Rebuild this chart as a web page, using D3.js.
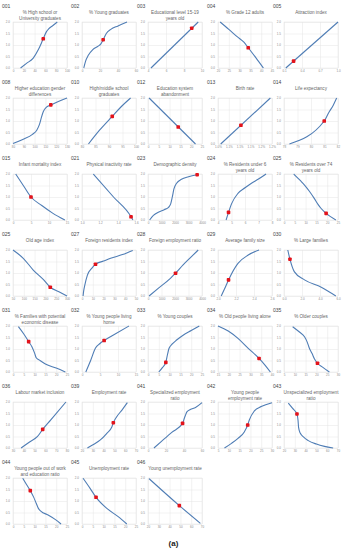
<!DOCTYPE html>
<html>
<head>
<meta charset="utf-8">
<script src="https://cdn.jsdelivr.net/npm/d3@7"></script>
<style>
  body { margin: 0; background: #fff; }
  svg { display: block; font-family: "Liberation Sans", Arial, sans-serif; }
</style>
</head>
<body>
<div id="chart"></div>
<script>
// indicator codes and titles, one per small panel
const panelIds = ["001","002","003","004","005","008","010","012","013","014",
  "015","021","023","024","025","025","027","028","029","030",
  "031","032","033","034","035","036","039","041","042","043",
  "044","045","046"];

const panelTitles = [
  ["% High school or", "University graduates"], ["% Young graduates"], ["Educational level 15-19", "years old"],
  ["% Grade 12 adults"], ["Attraction index"],
  ["Higher education gender", "differences"], ["High/middle school", "graduates"], ["Education system", "abandonment"],
  ["Birth rate"], ["Life expectancy"],
  ["Infant mortality index"], ["Physical inactivity rate"], ["Demographic density"],
  ["% Residents under 6", "years old"], ["% Residents over 74", "years old"],
  ["Old age index"], ["Foreign residents index"], ["Foreign employment ratio"], ["Average family size"], ["% Large families"],
  ["% Families with potential", "economic disease"], ["% Young people living", "home"], ["% Young couples"],
  ["% Old people living alone"], ["% Older couples"],
  ["Labour market inclusion"], ["Employment rate"], ["Specialized employment", "ratio"],
  ["Young people", "employment rate"], ["Unspecialized employment", "ratio"],
  ["Young people out of work", "and education ratio"], ["Unemployment rate"], ["Young unemployment rate"]
];

const xDomains = [
  [0,100],[0,60],[4,10],[20,45],[0.1,1.0],
  [80,130],[80,100],[0,25],[1.0,1.25],[78,82],
  [0,15],[1.0,1.6],[0,4000],[4,8],[0,25],
  [50,300],[0,50],[0,4000],[2.0,2.6],[0,6],
  [0,25],[0,15],[0,25],[15,40],[5,30],
  [30,80],[20,70],[0,60],[5,30],[20,70],
  [0,25],[0,25],[20,70]
];

const xTicks = [
  [0,20,40,60,80,100],[0,20,40,60],[4,6,8,10],[20,25,30,35,40,45],[0.1,0.4,0.7,1.0],
  [80,90,100,110,120,130],[80,85,90,95,100],[0,5,10,15,20,25],[1.0,1.05,1.1,1.15,1.2,1.25],[78,79,80,81,82],
  [0,5,10,15],[1.0,1.2,1.4,1.6],[0,1000,2000,3000,4000],[4,5,6,7,8],[0,5,10,15,20,25],
  [50,100,150,200,250,300],[0,10,20,30,40,50],[0,1000,2000,3000,4000],[2.0,2.2,2.4,2.6],[0,2,4,6],
  [0,5,10,15,20,25],[0,5,10,15],[0,5,10,15,20,25],[15,20,25,30,35,40],[5,10,15,20,25,30],
  [30,40,50,60,70,80],[20,30,40,50,60,70],[0,20,40,60],[5,10,15,20,25,30],[20,30,40,50,60,70],
  [0,5,10,15,20,25],[0,5,10,15,20,25],[20,30,40,50,60,70]
];

const xTickLabels = [
  ["0","20","40","60","80","100"],["0","20","40","60"],["4","6","8","10"],["20","25","30","35","40","45"],["0.1","0.4","0.7","1.0"],
  ["80","90","100","110","120","130"],["80","85","90","95","100"],["0","5","10","15","20","25"],["1.0%","1.1%","1.1%","1.1%","1.2%","1.2%"],["78","79","80","81","82"],
  ["0","5","10","15"],["1.0","1.2","1.4","1.6"],["0","1000","2000","3000","4000"],["4","5","6","7","8"],["0","5","10","15","20","25"],
  ["50","100","150","200","250","300"],["0","10","20","30","40","50"],["0","1000","2000","3000","4000"],["2.0","2.2","2.4","2.6"],["0.0","2.0","4.0","6.0"],
  ["0","5","10","15","20","25"],["0","5","10","15"],["0","5","10","15","20","25"],["15","20","25","30","35","40"],["5","10","15","20","25","30"],
  ["30","40","50","60","70","80"],["20","30","40","50","60","70"],["0","20","40","60"],["5","10","15","20","25","30"],["20","30","40","50","60","70"],
  ["0","5","10","15","20","25"],["0","5","10","15","20","25"],["20","30","40","50","60","70"]
];

const yTicks = [0, 0.5, 1.0, 1.5, 2.0];

// score curves: [indicator value, score]
const curves = [
  [[14,0],[25,0.2],[37.5,0.43],[47,0.8],[56,1.27],[62,1.58],[66,1.7],[74,1.85],[82,2.0]],
  [[2,0],[4,0.3],[7,0.55],[12,0.8],[18,0.95],[21,1.05],[23.5,1.23],[27,1.5],[32,1.68],[40,1.83],[50,2.0]],
  [[4.33,0],[9.58,2.0]],
  [[21,2.0],[25,1.68],[29,1.35],[32,1.12],[34,0.88],[37.5,0.45],[41,0]],
  [[0.13,0],[1.0,2.0]],
  [[80,0.02],[89,0.2],[98,0.42],[102,0.6],[104.5,0.85],[106,1.1],[108,1.4],[111,1.6],[115,1.7],[122,1.85],[130,2.0]],
  [[82.4,0],[86.5,0.6],[91.2,1.2],[94.5,1.62],[98,2.0]],
  [[0.5,2.0],[22,0]],
  [[1.0125,0],[1.2425,2.0]],
  [[78.4,0],[80.98,1.0],[81.3,1.35],[81.65,1.69],[81.9,2.0]],
  [[0.75,2.0],[3,1.47],[5,1.0],[8,0.63],[11,0.3],[14.4,0]],
  [[1.126,2.0],[1.35,1.0],[1.545,0.14],[1.565,0]],
  [[120,0],[400,0.2],[800,0.35],[1200,0.45],[1520,0.55],[1680,0.7],[1800,1.0],[1920,1.35],[2120,1.6],[2480,1.77],[3000,1.88],[3640,1.97]],
  [[4.6,0],[4.78,0.33],[5.0,0.7],[5.48,1.16],[6.0,1.4],[6.48,1.6],[7.0,1.78],[7.56,2.0]],
  [[4.5,2.0],[7.5,1.72],[9.5,1.52],[11.75,1.25],[14,0.94],[15.75,0.68],[17.1,0.51],[19.5,0.29],[24,0]],
  [[50,2.0],[97.5,1.64],[143.75,1.13],[190,0.72],[222.5,0.38],[262.5,0.18],[300,0]],
  [[1,0],[1.5,0.2],[2.5,0.45],[5,0.91],[9,1.2],[12.5,1.38],[20,1.52],[26.5,1.64],[37.5,1.8],[47,1.98]],
  [[80,0],[800,0.35],[1660,0.77],[2040,0.99],[2600,1.35],[3200,1.7],[3720,2.0]],
  [[2.036,0],[2.072,0.3],[2.117,0.7],[2.222,1.42],[2.336,1.78],[2.456,2.0]],
  [[0.42,2.0],[0.66,1.6],[1.14,1.06],[2.28,0.7],[4.14,0.38],[5.76,0]],
  [[2.5,1.97],[5,1.65],[7.25,1.32],[8.75,1.1],[10,0.82],[10.75,0.62],[12.5,0.5],[15,0.35],[20,0.17],[24.25,0]],
  [[1.05,0],[2.4,0.5],[3.75,1.04],[5,1.24],[6.15,1.37],[8.85,1.62],[13.05,2.0]],
  [[5,0],[6.75,0.2],[8.25,0.42],[9,0.75],[9.75,1.03],[11.25,1.22],[13.25,1.39],[16.25,1.6],[20,1.8],[23.75,2.0]],
  [[15,2.0],[19.75,1.78],[24.25,1.46],[29,1.03],[34,0.59],[36.75,0.3],[39.25,0]],
  [[9,1.97],[12,1.75],[14.5,1.53],[15.75,1.3],[16.75,1.03],[18,0.8],[19,0.59],[20.5,0.38],[23,0.2],[26,0]],
  [[37.5,0],[45,0.25],[52.5,0.49],[57.5,0.81],[65,1.22],[79,2.0]],
  [[25,0],[31,0.16],[37,0.35],[43,0.64],[47.5,0.9],[49,1.1],[52,1.35],[57,1.65],[62,1.97]],
  [[6.6,0],[15,0.29],[26.4,0.68],[38.4,1.07],[40,1.25],[41.4,1.4],[43.2,1.57],[47,1.67],[52.8,1.76],[60,1.97]],
  [[8,0],[11.25,0.2],[14.25,0.42],[17.25,0.71],[18.75,1.0],[19.5,1.22],[21.75,1.6],[25,1.8],[30,1.97]],
  [[24,1.95],[28,1.72],[32,1.48],[33,1.2],[33.5,0.9],[35,0.65],[38,0.48],[42.5,0.32],[50,0.17],[57.5,0.07],[65.5,0]],
  [[4.5,1.99],[6.25,1.72],[8,1.45],[9.5,1.18],[10.75,0.9],[11.75,0.68],[13,0.55],[16.25,0.39],[19.5,0.2],[22.25,0]],
  [[0.5,1.99],[3.75,1.55],[6.5,1.16],[11.5,0.68],[16.75,0.32],[20.75,0]],
  [[21,1.97],[49,0.8],[68.5,0.03]]
];

// red marker on each curve
const dots = [
  [56,1.27],[23.5,1.23],[8.86,1.73],[34,0.88],[0.26,0.3],
  [115,1.7],[91.2,1.2],[14,0.74],[1.106,0.815],[80.98,1.0],
  [5,1.0],[1.545,0.14],[3640,1.97],[4.78,0.33],[19.5,0.29],
  [222.5,0.38],[12.5,1.38],[2040,0.99],[2.117,0.7],[0.66,1.6],
  [7.25,1.32],[6.15,1.37],[8.25,0.42],[34,0.59],[20.5,0.38],
  [57.5,0.81],[49,1.1],[38.4,1.07],[18.75,1.0],[32,1.48],
  [8,1.45],[6.5,1.16],[49,0.8]
];

// layout
const width = 347, height = 550;
const colLeft = [13, 82, 148, 218, 284];
const rowTop = [22, 98, 174, 250, 326, 402, 478];
const plotW = 54, plotH = 46;

const svg = d3.select("#chart").append("svg")
    .attr("width", width)
    .attr("height", height);

const y = d3.scaleLinear().domain([0, 2]).range([plotH, 0]);

panelIds.forEach((id, i) => {
    const g = svg.append("g")
        .attr("transform", `translate(${colLeft[i % 5]},${rowTop[Math.floor(i / 5)]})`);

    const x = d3.scaleLinear().domain(xDomains[i]).range([0, plotW]);

    const gx = g.append("g")
        .attr("transform", `translate(0,${plotH})`)
        .call(d3.axisBottom(x)
            .tickValues(xTicks[i])
            .tickFormat((d, j) => xTickLabels[i][j])
            .tickSize(-plotH)
            .tickPadding(2));
    const gy = g.append("g")
        .call(d3.axisLeft(y)
            .tickValues(yTicks)
            .tickFormat(d3.format(".1f"))
            .tickSize(-plotW)
            .tickPadding(3));

    [gx, gy].forEach(a => {
        a.select(".domain").remove();
        a.selectAll(".tick line").attr("stroke", "#e4e4e4").attr("stroke-width", 0.5);
        a.selectAll(".tick text").attr("fill", "#8a8a8a").style("font-size", "3px");
    });

    g.append("rect")
        .attr("width", plotW)
        .attr("height", plotH)
        .attr("fill", "none")
        .attr("stroke", "#e4e4e4")
        .attr("stroke-width", 0.5);

    const line = d3.line()
        .x(d => x(d[0]))
        .y(d => y(d[1]))
        .curve(d3.curveMonotoneX);

    g.append("path")
        .datum(curves[i])
        .attr("d", line)
        .attr("fill", "none")
        .attr("stroke", "#4f7db5")
        .attr("stroke-width", 1.1);

    g.append("rect")
        .attr("x", x(dots[i][0]) - 1.8)
        .attr("y", y(dots[i][1]) - 1.8)
        .attr("width", 3.6)
        .attr("height", 3.6)
        .attr("rx", 0.9)
        .attr("fill", "#e3131b");

    g.append("text")
        .attr("x", -11)
        .attr("y", -16)
        .attr("dy", "0.35em")
        .attr("fill", "#444")
        .style("font-size", "5px")
        .text(id);

    panelTitles[i].forEach((t, k) => {
        g.append("text")
            .attr("x", plotW / 2)
            .attr("y", -10 + k * 6)
            .attr("dy", "0.35em")
            .attr("text-anchor", "middle")
            .attr("fill", "#666")
            .style("font-size", "4.6px")
            .text(t);
    });
});

svg.append("text")
    .attr("x", width / 2)
    .attr("y", 543)
    .attr("dy", "0.35em")
    .attr("text-anchor", "middle")
    .attr("fill", "#222")
    .style("font-size", "8px")
    .style("font-weight", "bold")
    .text("(a)");
</script>
</body>
</html>
